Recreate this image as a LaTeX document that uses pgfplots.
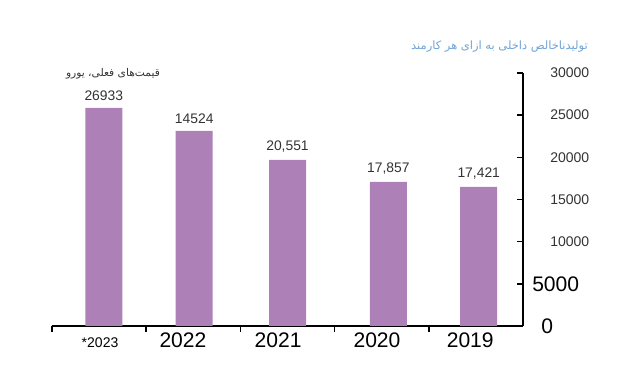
\documentclass[border=0pt]{standalone}
\usepackage{pgfplots}
\pgfplotsset{compat=1.18}
\usepackage{fontspec}
\setmainfont{Liberation Sans}
\newfontfamily\arabicfont[Script=Arabic]{DejaVu Sans}
\TeXXeTstate=1
\definecolor{barpurple}{HTML}{AE80B8}
\definecolor{titleblue}{HTML}{6FA3D8}
\definecolor{txtgray}{HTML}{333333}
\newcommand{\sm}[1]{\makebox[49.5pt][r]{\raisebox{-2pt}{\fontsize{10.5}{12}\selectfont\color{txtgray}#1}}}
\newcommand{\bg}[2]{\makebox[49.5pt][l]{\hspace*{#1}\fontsize{15.8}{16}\selectfont #2}}
\begin{document}
\begin{tikzpicture}[x=1pt,y=1pt]
\path[use as bounding box] (0,0) rectangle (480,277.5);
\begin{axis}[
  at={(39pt,33pt)}, anchor=south west,
  width=353.25pt, height=189.75pt, scale only axis,
  xmin=-0.5, xmax=4.5, ymin=0, ymax=30000,
  axis x line*=bottom, axis y line*=right,
  axis line style={line width=1.1pt, black},
  tick align=outside,
  scaled y ticks=false,
  xtick={0.01,0.89,1.90,2.95,3.94},
  xticklabels={{\fontsize{10.5}{12}\selectfont *2023},2022,2021,2020,2019},
  minor xtick={-0.5,0.5,1.5,2.5,3.5},
  major x tick style={draw=none},
  minor x tick style={line width=1.1pt, black},
  minor tick length=4.5pt,
  xticklabel style={anchor=base, inner sep=0pt, font=\fontsize{15.8}{16}\selectfont, yshift=-21pt},
  ytick={0,5000,10000,15000,20000,25000,30000},
  yticklabels={\bg{13.5pt}{0},\bg{6.75pt}{5000},\sm{10000},\sm{15000},\sm{20000},\sm{25000},\sm{30000}},
  y tick style={line width=1.1pt, black},
  major tick length=-4.5pt,
  yticklabel style={anchor=west, inner sep=0pt, xshift=4.5pt},
  clip=false,
]
\addplot[ybar, bar width=27.75pt, fill=barpurple, draw=none,
  point meta=explicit symbolic,
  nodes near coords,
  nodes near coords style={font=\fontsize{10.4}{12}\selectfont, text=txtgray, inner sep=0pt, anchor=south, yshift=5.5pt}]
coordinates {(0.05,25860)[26933] (1.01,23130)[14524] (2.0,19690)[{20,551}] (3.07,17080)[{17,857}] (4.03,16490)[{17,421}]};
\end{axis}
\node[anchor=east, text=titleblue, inner sep=0pt, font=\fontsize{8.6}{10}\selectfont] at (441,242.5) {\arabicfont\beginR تولیدناخالص داخلی به ازای هر کارمند\endR};
\node[anchor=center, text=txtgray, inner sep=0pt, font=\fontsize{8}{9}\selectfont] at (84.75,222) {\arabicfont\beginR قیمت‌های فعلی، یورو\endR};
\end{tikzpicture}
\end{document}
